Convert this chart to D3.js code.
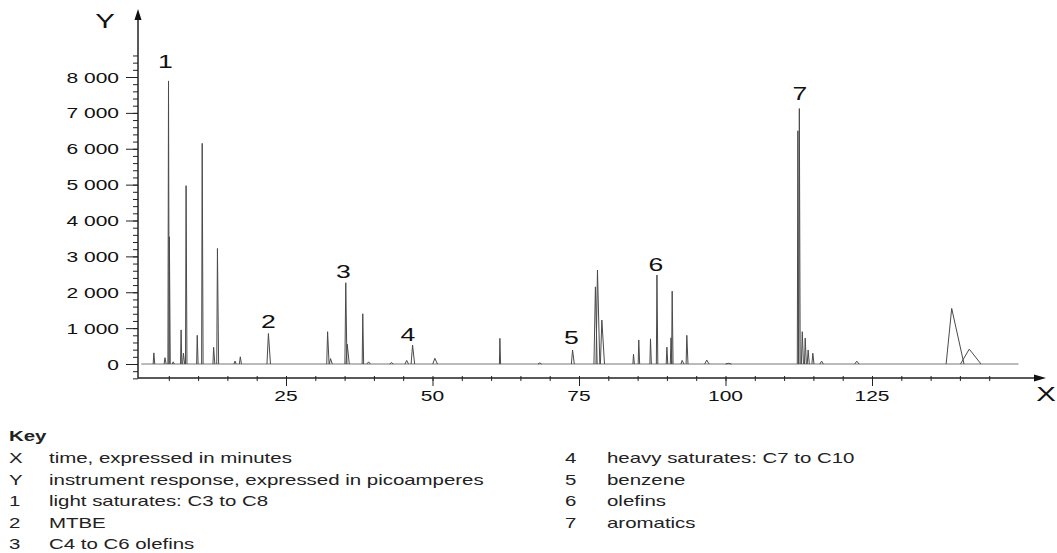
<!DOCTYPE html>
<html>
<head>
<meta charset="utf-8">
<script src="https://cdn.jsdelivr.net/npm/d3@7"></script>
<style>
  body { margin: 0; background: #fff; }
  svg { display: block; font-family: "Liberation Sans", Arial, sans-serif; }
</style>
</head>
<body>
<div id="chart"></div>
<script>
// peaks: retention time (min), response (pA),
// half width of the peak on the left and right side (min)
var peakTime   = [2.45, 4.35, 4.95, 5.1, 5.75, 7.1, 7.5, 7.95, 9.85, 10.7, 12.65, 13.3, 16.3, 17.2,
                  22.0, 32.1, 32.6, 35.2, 35.45, 38.1, 39.1, 43.0, 45.6, 46.6, 50.4, 61.5, 68.3,
                  73.9, 77.8, 78.15, 78.9, 84.3, 85.2, 87.2, 88.3, 90.0, 90.7, 90.9, 92.6, 93.4,
                  96.8, 100.5, 112.35, 112.6, 113.1, 113.6, 114.1, 114.9, 116.4, 122.4, 138.6, 141.6];
var peakHeight = [310, 175, 7890, 3545, 60, 950, 300, 4970, 800, 6150, 465, 3220, 80, 200,
                  850, 900, 150, 2265, 550, 1400, 60, 40, 100, 530, 160, 715, 30,
                  390, 2150, 2620, 1225, 270, 670, 700, 2480, 470, 730, 2030, 100, 800,
                  110, 20, 6500, 7120, 900, 720, 390, 300, 80, 80, 1550, 415];
var peakLeft   = [0.12, 0.15, 0.1, 0.08, 0.15, 0.1, 0.15, 0.1, 0.1, 0.1, 0.12, 0.12, 0.2, 0.15,
                  0.25, 0.15, 0.2, 0.15, 0.2, 0.1, 0.3, 0.3, 0.3, 0.25, 0.35, 0.08, 0.3,
                  0.2, 0.25, 0.25, 0.25, 0.1, 0.1, 0.1, 0.1, 0.12, 0.12, 0.1, 0.2, 0.12,
                  0.35, 0.5, 0.1, 0.1, 0.15, 0.12, 0.15, 0.15, 0.3, 0.35, 0.95, 1.5];
var peakRight  = [0.15, 0.2, 0.12, 0.15, 0.2, 0.12, 0.2, 0.15, 0.15, 0.15, 0.2, 0.2, 0.2, 0.2,
                  0.35, 0.25, 0.3, 0.2, 0.35, 0.15, 0.3, 0.3, 0.3, 0.35, 0.45, 0.12, 0.3,
                  0.3, 0.3, 0.4, 0.45, 0.15, 0.15, 0.15, 0.15, 0.15, 0.15, 0.15, 0.3, 0.2,
                  0.4, 0.5, 0.12, 0.15, 0.2, 0.2, 0.2, 0.2, 0.3, 0.4, 2.1, 2.0];

// numbered group labels placed over the trace
var groupNum  = ["1", "2", "3", "4", "5", "6", "7"];
var groupTime = [4.4, 22.0, 34.8, 45.8, 73.7, 88.1, 112.7];
var groupY    = [8250, 1000, 2400, 650, 560, 2600, 7350];

var xTicksMinor = d3.range(5, 150, 5);
var xTicksMajor = [25, 50, 75, 100, 125];
var yTicksMinor = d3.range(-400, 8601, 200);
var yTicksMajor = d3.range(0, 8001, 1000);

var keyLeft  = [["X", "time, expressed in minutes"],
                ["Y", "instrument response, expressed in picoamperes"],
                ["1", "light saturates: C3 to C8"],
                ["2", "MTBE"],
                ["3", "C4 to C6 olefins"]];
var keyRight = [["4", "heavy saturates: C7 to C10"],
                ["5", "benzene"],
                ["6", "olefins"],
                ["7", "aromatics"]];

var width = 1057, height = 553;
var stretch = 1.4;     // the figure's lettering is drawn wide
var keyStretch = 1.46;

var svg = d3.select("#chart").append("svg")
    .attr("width", width)
    .attr("height", height);

var x = d3.scaleLinear().domain([0, 150]).range([139.5, 1018.5]);
var y = d3.scaleLinear().domain([0, 8000]).range([364, 77]);
var axisX = 138, axisY = 378;

function wideText(sel, px, py, str, anchor, k) {
    return sel.append("text")
        .attr("transform", "translate(" + px + "," + py + ") scale(" + (k || stretch) + ",1)")
        .attr("text-anchor", anchor || "start")
        .text(str);
}

// baseline of the trace
svg.append("line")
    .attr("x1", x(0.3)).attr("x2", x(150))
    .attr("y1", y(0)).attr("y2", y(0))
    .attr("stroke", "#777")
    .attr("stroke-width", 1);

// peaks
var line = d3.line()
    .x(function(d) { return x(d[0]); })
    .y(function(d) { return y(d[1]); });

var peaks = peakTime.map(function(t, i) {
    return [[t - peakLeft[i], 0], [t, peakHeight[i]], [t + peakRight[i], 0]];
});

svg.append("g")
    .selectAll("path")
    .data(peaks)
    .enter().append("path")
    .attr("d", line)
    .attr("fill", "none")
    .attr("stroke", "#4a4a4a")
    .attr("stroke-width", 1);

// y axis
var fmt = d3.formatLocale({decimal: ".", thousands: " ", grouping: [3], currency: ["", ""]}).format(",");

svg.append("g")
    .attr("transform", "translate(" + axisX + ",0)")
    .call(d3.axisLeft(y).tickValues(yTicksMinor).tickSize(5).tickFormat(""))
    .call(function(g) { g.select(".domain").remove(); });

svg.append("g")
    .attr("transform", "translate(" + axisX + ",0)")
    .call(d3.axisLeft(y).tickValues(yTicksMajor).tickSize(12).tickFormat(""))
    .call(function(g) { g.select(".domain").remove(); });

yTicksMajor.forEach(function(v) {
    wideText(svg, axisX - 19, y(v) + 5.5, fmt(v), "end")
        .attr("font-size", 15)
        .attr("fill", "#111");
});

// x axis
svg.append("g")
    .attr("transform", "translate(0," + (axisY - 2) + ")")
    .call(d3.axisBottom(x).tickValues(xTicksMinor).tickSize(5).tickFormat(""))
    .call(function(g) { g.select(".domain").remove(); });

svg.append("g")
    .attr("transform", "translate(0," + axisY + ")")
    .call(d3.axisBottom(x).tickValues(xTicksMajor).tickSize(8).tickFormat(""))
    .call(function(g) { g.select(".domain").remove(); });

xTicksMajor.forEach(function(v) {
    wideText(svg, x(v), 401, v, "middle")
        .attr("font-size", 15)
        .attr("fill", "#111");
});

svg.selectAll(".tick line").attr("stroke", "#222");

// axis lines with arrows
svg.append("line")
    .attr("x1", axisX).attr("x2", axisX)
    .attr("y1", y(-400)).attr("y2", 16)
    .attr("stroke", "#222").attr("stroke-width", 1.5);
svg.append("path")
    .attr("d", "M" + axisX + ",9 L" + (axisX - 3.5) + ",20 L" + (axisX + 3.5) + ",20 Z")
    .attr("fill", "#111");

svg.append("line")
    .attr("x1", axisX).attr("x2", 1038)
    .attr("y1", axisY).attr("y2", axisY)
    .attr("stroke", "#222").attr("stroke-width", 1.5);
svg.append("path")
    .attr("d", "M1046," + axisY + " L1034," + (axisY - 3.5) + " L1034," + (axisY + 3.5) + " Z")
    .attr("fill", "#111");

wideText(svg, 105, 28, "Y", "middle").attr("font-size", 21).attr("fill", "#111");
wideText(svg, 1046, 401, "X", "middle").attr("font-size", 21).attr("fill", "#111");

// group numbers
groupNum.forEach(function(n, i) {
    wideText(svg, x(groupTime[i]), y(groupY[i]), n, "middle")
        .attr("font-size", 19)
        .attr("fill", "#111");
});

// key
wideText(svg, 9, 441, "Key", "start", keyStretch)
    .attr("font-size", 14).attr("font-weight", "bold").attr("fill", "#222");

var rowY = [462.5, 484.5, 506, 527.5, 549];
keyLeft.forEach(function(r, i) {
    wideText(svg, 9, rowY[i], r[0], "start", keyStretch).attr("font-size", 14).attr("fill", "#222");
    wideText(svg, 49, rowY[i], r[1], "start", keyStretch).attr("font-size", 14).attr("fill", "#222");
});
keyRight.forEach(function(r, i) {
    wideText(svg, 565, rowY[i], r[0], "start", keyStretch).attr("font-size", 14).attr("fill", "#222");
    wideText(svg, 607, rowY[i], r[1], "start", keyStretch).attr("font-size", 14).attr("fill", "#222");
});
</script>
</body>
</html>
